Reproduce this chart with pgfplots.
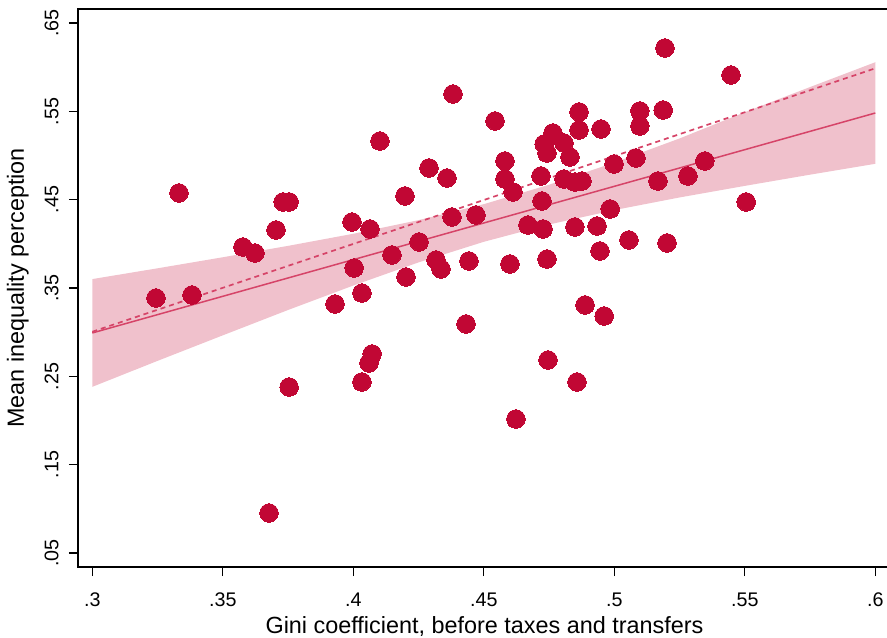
\documentclass[border=0pt]{standalone}
\usepackage{pgfplots}
\pgfplotsset{compat=1.18}
\usepackage{fontspec}
\setmainfont{Liberation Sans}
\definecolor{dotc}{RGB}{193,7,52}
\definecolor{bandc}{RGB}{240,193,204}
\definecolor{linec}{RGB}{214,68,104}
\begin{document}
\begin{tikzpicture}
\begin{axis}[
  scale only axis, width=813pt, height=558pt,
  xmin=0.29452, xmax=0.60601, ymin=0.03415, ymax=0.66585,
  axis line style={line width=1.6pt},
  xtick={0.3,0.35,0.4,0.45,0.5,0.55,0.6},
  xticklabels={.3,.35,.4,.45,.5,.55,.6},
  ytick={0.05,0.15,0.25,0.35,0.45,0.55,0.65},
  yticklabels={.05,.15,.25,.35,.45,.55,.65},
  tick align=outside, major tick length=9pt,
  xtick pos=bottom, ytick pos=left,
  tick style={line width=1.1pt, black},
  ticklabel style={font=\fontsize{19.7}{22}\selectfont},
  yticklabel style={rotate=90, anchor=south},
  xticklabel shift=13pt, yticklabel shift=7pt,
  label style={font=\fontsize{23.4}{26}\selectfont},
  xlabel={Gini coefficient, before taxes and transfers},
  ylabel={Mean inequality perception},
  xlabel shift=3pt, ylabel shift=9pt,
]
% confidence band
\addplot[fill=bandc, draw=none] table {
x y
0.300 0.3601
0.325 0.3723
0.350 0.3848
0.375 0.3977
0.400 0.4114
0.425 0.4268
0.450 0.4449
0.475 0.4669
0.500 0.4920
0.525 0.5193
0.550 0.5490
0.575 0.5775
0.600 0.6056
0.600 0.4906
0.575 0.4783
0.550 0.4656
0.525 0.4525
0.500 0.4382
0.475 0.4219
0.450 0.4023
0.425 0.3790
0.400 0.3528
0.375 0.3251
0.350 0.2964
0.325 0.2675
0.300 0.2381
} -- cycle;
% fitted line
\addplot[linec, line width=1.5pt] coordinates {(0.3,0.2991) (0.6,0.5481)};
% dashed line
\addplot[linec, line width=1.7pt, dash pattern=on 5pt off 4pt] coordinates {(0.3,0.3005) (0.6,0.5987)};
% scatter
\addplot[only marks, mark=*, mark size=9.3pt, mark options={draw=dotc, fill=dotc, line width=0pt}] table {
x y
0.3244 0.3387
0.3332 0.4576
0.3382 0.3421
0.3577 0.3964
0.3623 0.3896
0.3704 0.4157
0.3731 0.4474
0.3754 0.4474
0.3754 0.2379
0.3677 0.0953
0.3930 0.3319
0.3995 0.4247
0.4003 0.3727
0.4033 0.3443
0.4033 0.2436
0.4060 0.2651
0.4072 0.2753
0.4064 0.4168
0.4102 0.5164
0.4148 0.3874
0.4198 0.4542
0.4202 0.3625
0.4252 0.4021
0.4290 0.4859
0.4317 0.3817
0.4336 0.3715
0.4359 0.4745
0.4378 0.4304
0.4382 0.5696
0.4432 0.3093
0.4443 0.3806
0.4470 0.4327
0.4543 0.5391
0.4581 0.4938
0.4581 0.4734
0.4612 0.4587
0.4600 0.3772
0.4623 0.2017
0.4669 0.4213
0.4719 0.4768
0.4723 0.4485
0.4727 0.4168
0.4731 0.5130
0.4742 0.5028
0.4742 0.3828
0.4746 0.2685
0.4765 0.5255
0.4807 0.5142
0.4830 0.4983
0.4807 0.4734
0.4849 0.4191
0.4865 0.5493
0.4865 0.5289
0.4849 0.4700
0.4876 0.4711
0.4857 0.2436
0.4888 0.3308
0.4949 0.5300
0.4934 0.4202
0.4945 0.3919
0.4961 0.3183
0.4984 0.4395
0.4999 0.4904
0.5056 0.4044
0.5083 0.4972
0.5098 0.5504
0.5098 0.5334
0.5194 0.6217
0.5187 0.5515
0.5167 0.4711
0.5202 0.4010
0.5282 0.4768
0.5347 0.4938
0.5447 0.5911
0.5505 0.4474
};
\end{axis}
\pgfresetboundingbox
\path ([shift={(-78pt,-70pt)}]current axis.south west) rectangle ([shift={(-4pt,9pt)}]current axis.north east);
\end{tikzpicture}
\end{document}
